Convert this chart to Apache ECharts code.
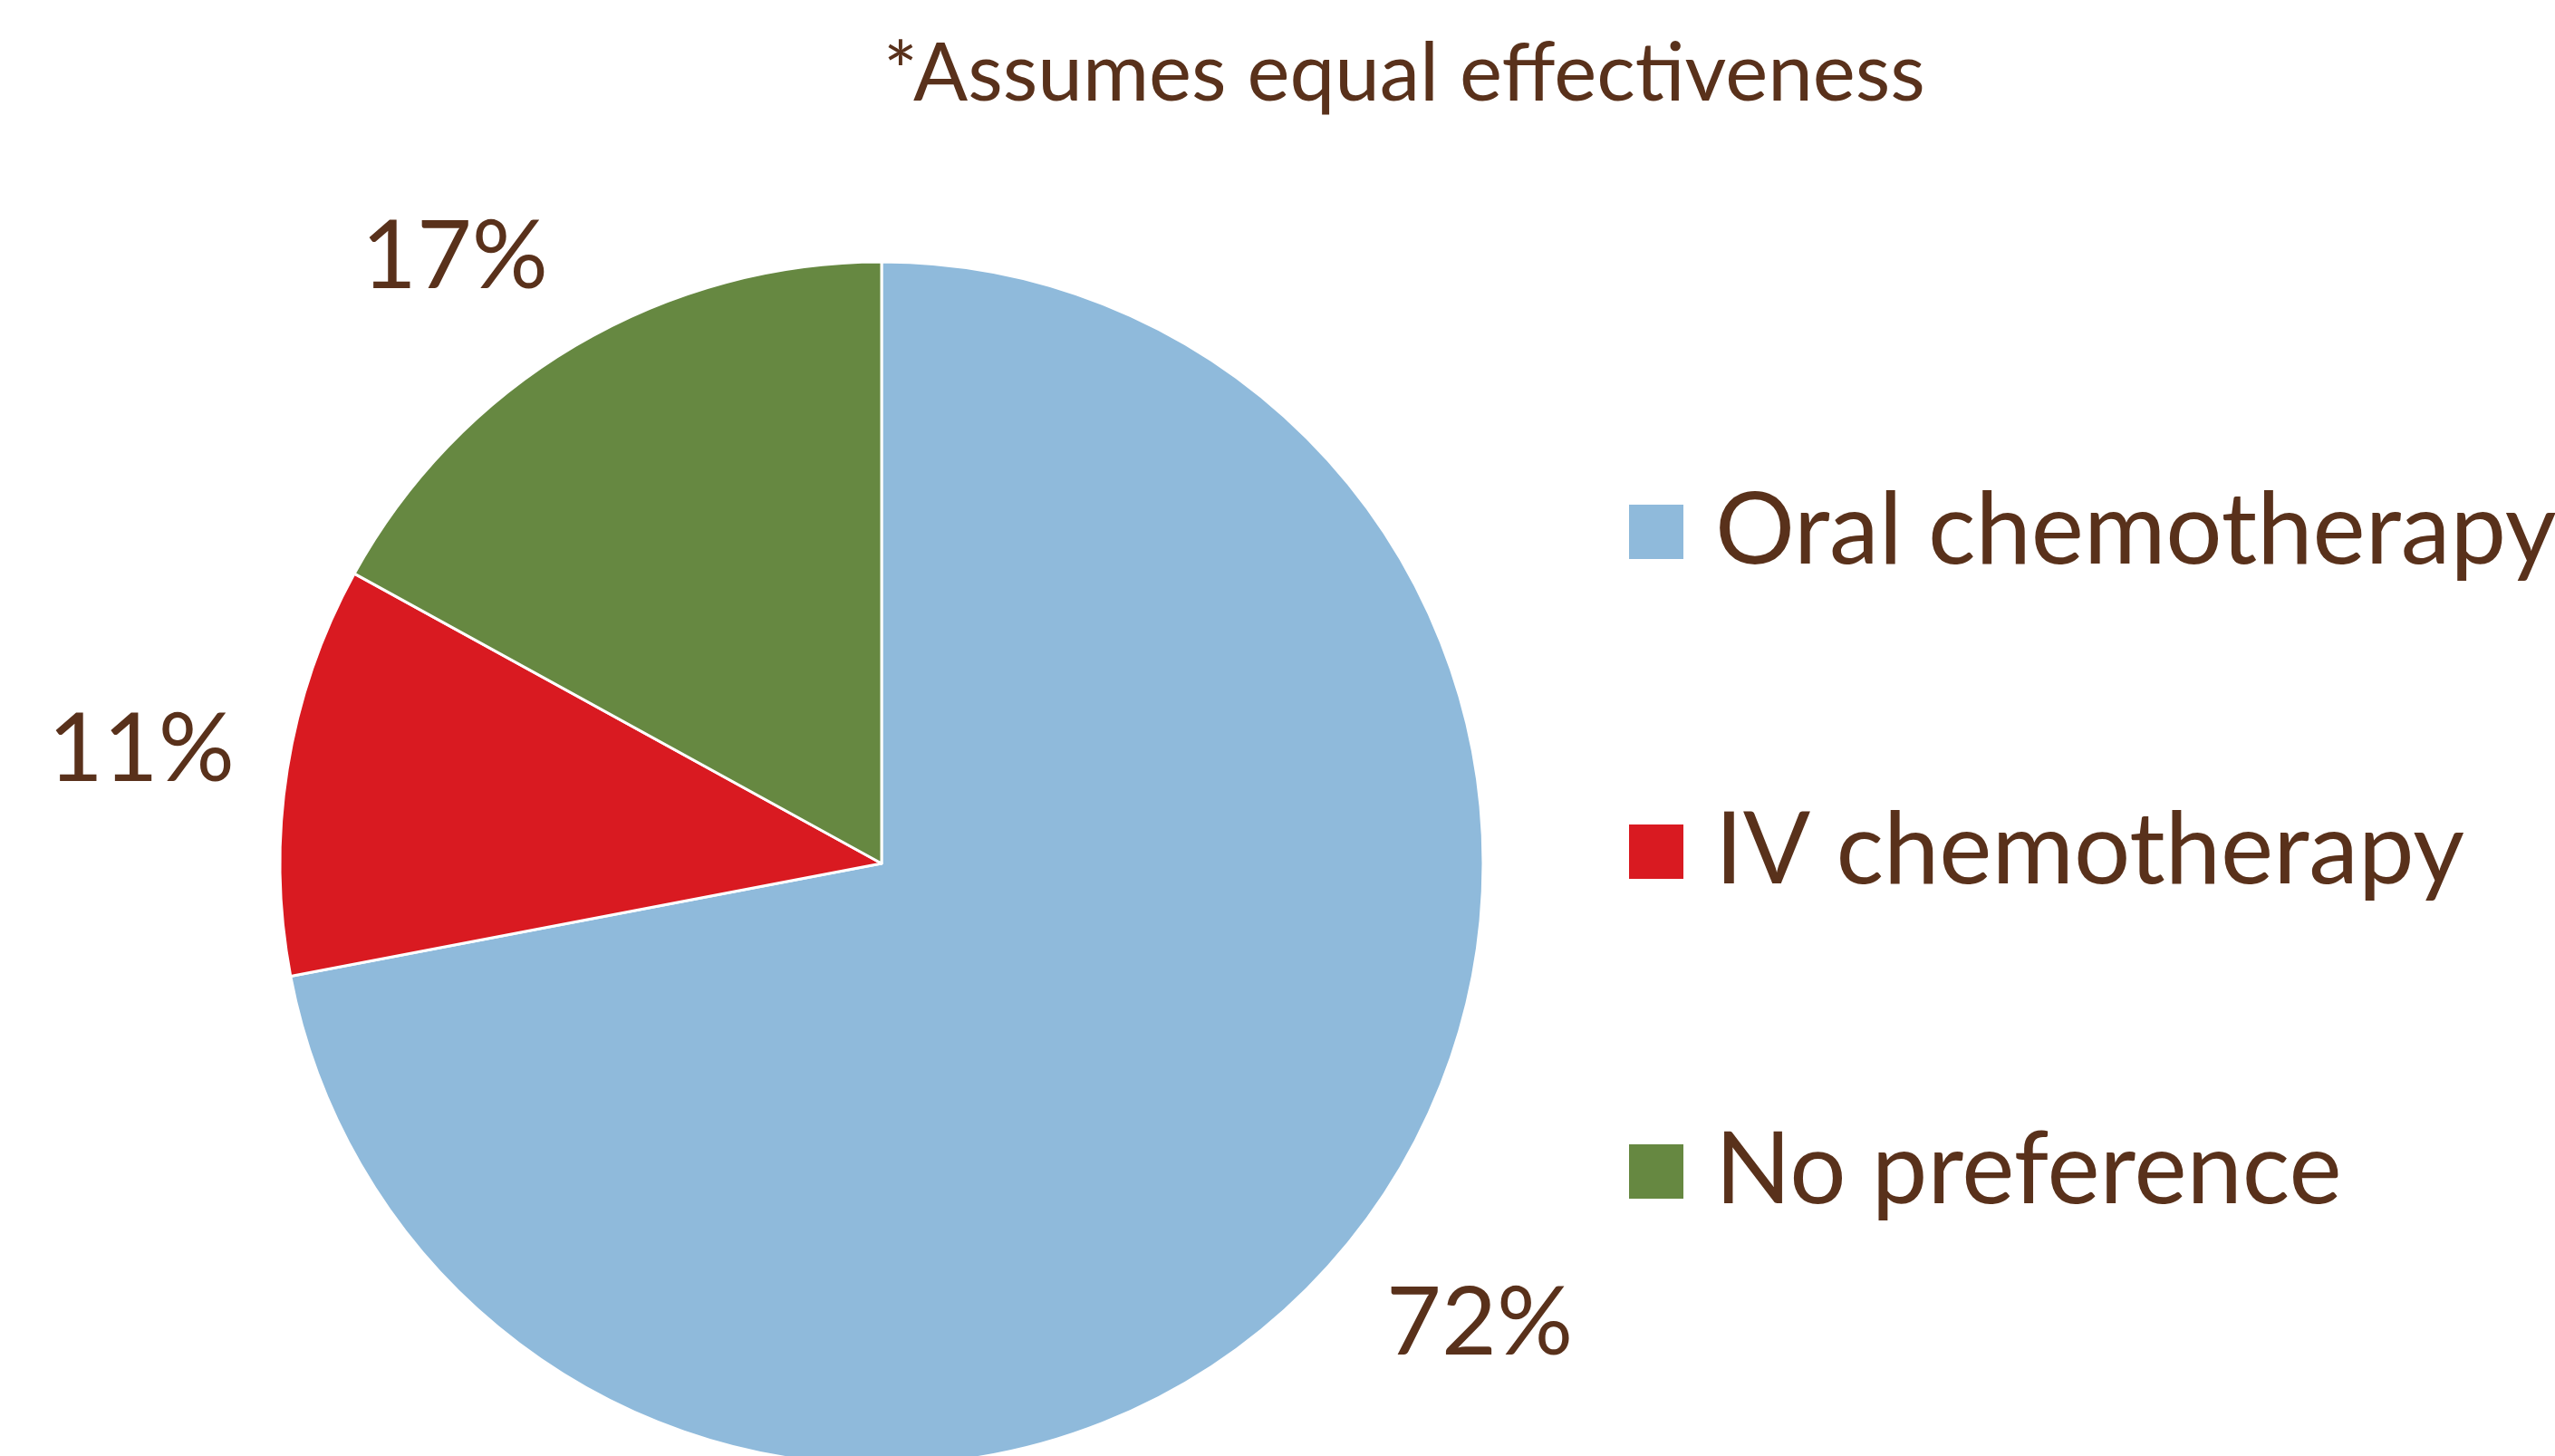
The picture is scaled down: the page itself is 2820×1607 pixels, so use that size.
<!DOCTYPE html>
<html>
<head>
    <meta charset="utf-8"/>
    <title>Chemotherapy preference</title>
    <script src="https://cdn.jsdelivr.net/npm/echarts@6/dist/echarts.min.js"></script>
    <style>
        html, body { margin: 0; padding: 0; background: #fff; }
        #main { width: 2820px; height: 1607px; }
    </style>
</head>
<body>
<div id="main"></div>
<script type="text/javascript">
    // data
    var categories = ['Oral chemotherapy', 'IV chemotherapy', 'No preference'];
    var shares = [72, 11, 17];
    var colors = ['#8FBADB', '#D91A21', '#668841'];
    var note = '*Assumes equal effectiveness';

    var textColor = '#59311B';
    var fontFamily = 'Lato, "Open Sans", sans-serif';
    var cx = 973, cy = 953, radius = 664;
    var labelDist = 723;   // anchor point distance from centre
    var labelLift = 47;    // vertical push of a label away from the pie

    // mid angle of every slice, clockwise from 12 o'clock
    var total = shares.reduce(function (a, b) { return a + b; }, 0);
    var midAngles = [];
    var acc = 0;
    shares.forEach(function (v) {
        midAngles.push((acc + v / 2) / total * 360);
        acc += v;
    });

    var myChart = echarts.init(document.getElementById('main'));

    var option = {
        backgroundColor: '#fff',
        color: colors,
        title: {
            text: note,
            left: 1550,
            top: 38,
            padding: 0,
            textAlign: 'center',
            textStyle: {
                color: textColor,
                fontFamily: fontFamily,
                fontWeight: 'normal',
                fontSize: 89
            }
        },
        legend: {
            orient: 'vertical',
            left: 1798,
            top: 532,
            padding: 0,
            itemWidth: 60,
            itemHeight: 60,
            itemGap: 243,
            icon: 'rect',
            itemStyle: { borderWidth: 0 },
            data: categories,
            textStyle: {
                color: textColor,
                fontFamily: fontFamily,
                fontSize: 110,
                padding: [0, 0, 0, 30]
            }
        },
        series: [{
            type: 'pie',
            center: [cx, cy],
            radius: radius,
            startAngle: 90,
            clockwise: true,
            avoidLabelOverlap: false,
            itemStyle: {
                borderColor: '#fff',
                borderWidth: 3
            },
            label: {
                show: true,
                position: 'outside',
                formatter: '{c}%',
                color: textColor,
                fontFamily: fontFamily,
                fontSize: 105
            },
            labelLine: { show: false },
            // label box sits just outside the slice, corner towards the pie
            labelLayout: function (params) {
                var a = (90 - midAngles[params.dataIndex]) * Math.PI / 180;
                var ux = Math.cos(a), uy = -Math.sin(a);
                var halfW = params.labelRect.width / 2;
                var lift = labelLift * Math.min(1, Math.abs(uy) / 0.6);
                return {
                    x: cx + labelDist * ux + (ux < 0 ? -halfW : halfW),
                    y: cy + labelDist * uy + (uy < 0 ? -lift : lift),
                    align: 'center',
                    verticalAlign: 'middle'
                };
            },
            emphasis: { disabled: true },
            data: categories.map(function (name, i) {
                return { name: name, value: shares[i] };
            })
        }]
    };

    myChart.setOption(option);
</script>
</body>
</html>
